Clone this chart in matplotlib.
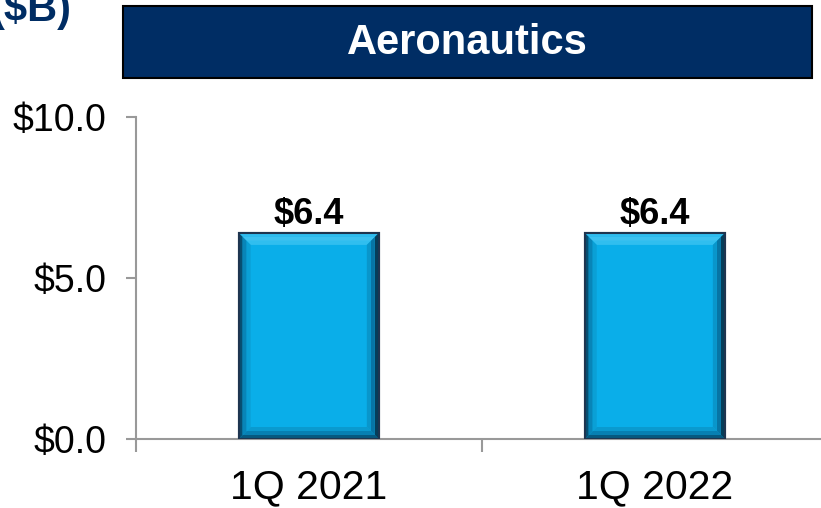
import matplotlib
matplotlib.use("Agg")
import matplotlib.pyplot as plt
from matplotlib.patches import Polygon, Rectangle

plt.rcParams['font.family'] = ['Liberation Sans', 'DejaVu Sans']

categories = ['1Q 2021', '1Q 2022']
values = [6.4, 6.4]
value_labels = ['$6.4', '$6.4']
yticks = [0, 5, 10]
ytick_labels = ['$0.0', '$5.0', '$10.0']
title = 'Aeronautics'
unit = '($B)'

navy = '#002D64'
face = '#0AAEE9'

fig = plt.figure(figsize=(8.21, 5.08), dpi=100)
ax = fig.add_axes([0.1653, 0.1358, 0.843, 0.6339])

x = range(len(categories))
bars = ax.bar(x, values, width=0.405, color=face, edgecolor='#1E3550',
              linewidth=1.5, zorder=2)
ax.set_xlim(-0.5, 1.5)
ax.set_ylim(0, 10)
ax.set_xticks([-0.5, 0.5, 1.5])
ax.set_xticklabels([])
ax.set_xticks(list(x), minor=True)
ax.set_xticklabels(categories, minor=True)
ax.set_yticks(yticks)
ax.set_yticklabels(ytick_labels)

for s in ['top', 'right']:
    ax.spines[s].set_visible(False)
for s in ['left', 'bottom']:
    ax.spines[s].set_color('#999999')
    ax.spines[s].set_linewidth(1.5)
ax.tick_params(axis='y', length=7.2, width=1.5, color='#999999', labelsize=27, pad=14)
ax.tick_params(axis='x', which='major', length=9.5, width=1.5, color='#999999')
ax.tick_params(axis='x', which='minor', length=0, labelsize=29.5, pad=21)

# soft bevel on each bar: a few nested bands, darker towards the outer edge
fig.canvas.draw()
inv = ax.transData.inverted()
p0 = inv.transform((0, 0))
p1 = inv.transform((4, 4))
bx, by = p1[0] - p0[0], p1[1] - p0[1]
band_colors = [
    # top, bottom, left, right
    ('#2FBDEF', '#06597F', '#074F72', '#053E5A'),
    ('#3CC2F1', '#0780B2', '#0885B8', '#0775A5'),
    ('#30BEEF', '#0A9ACF', '#0AA0D6', '#0996CB'),
]
for b in bars:
    x0, y0 = b.get_x(), b.get_y()
    x1, y1 = x0 + b.get_width(), y0 + b.get_height()
    for k, (ct, cb, cl, cr) in enumerate(band_colors):
        ax0, ay0, ax1, ay1 = x0 + k * bx, y0 + k * by, x1 - k * bx, y1 - k * by
        parts = [
            ([(ax0, ay1), (ax1, ay1), (ax1 - bx, ay1 - by), (ax0 + bx, ay1 - by)], ct),
            ([(ax0, ay0), (ax1, ay0), (ax1 - bx, ay0 + by), (ax0 + bx, ay0 + by)], cb),
            ([(ax0, ay0), (ax0, ay1), (ax0 + bx, ay1 - by), (ax0 + bx, ay0 + by)], cl),
            ([(ax1, ay0), (ax1, ay1), (ax1 - bx, ay1 - by), (ax1 - bx, ay0 + by)], cr),
        ]
        for pts, c in parts:
            ax.add_patch(Polygon(pts, closed=True, facecolor=c, edgecolor='none', zorder=3))
    ax.add_patch(Rectangle((x0, y0), b.get_width(), b.get_height(), fill=False,
                           edgecolor='#1E3550', linewidth=1.5, zorder=4))

for xi, v, lab in zip(x, values, value_labels):
    ax.annotate(lab, (xi, v), xytext=(0, 1), textcoords='offset points',
                ha='center', va='bottom', fontsize=26, fontweight='bold', zorder=5)

# title box
fig.patches.append(Rectangle((123 / 821, 1 - 78 / 508), (812 - 123) / 821, 72 / 508,
                             transform=fig.transFigure, facecolor=navy,
                             edgecolor='black', linewidth=1.5))
fig.text(467.5 / 821, 1 - 42.5 / 508, title, ha='center', va='center',
         color='white', fontsize=30, fontweight='bold')
fig.text(-9 / 821, 1 - 21 / 508, unit, ha='left', va='baseline',
         color=navy, fontsize=30, fontweight='bold')

fig.savefig('out.png', dpi=100)
